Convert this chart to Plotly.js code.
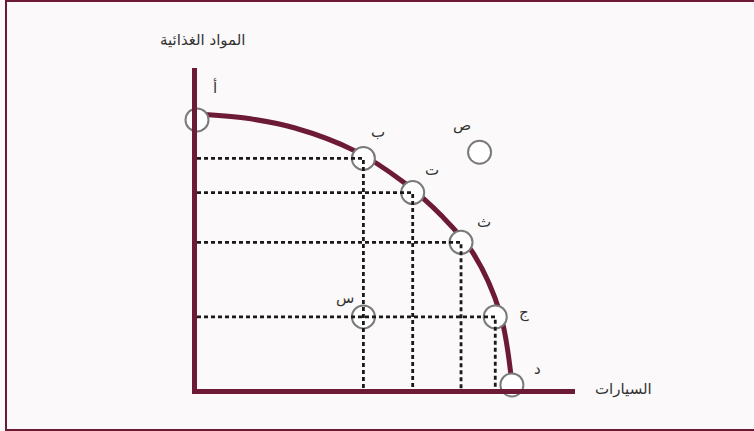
<!DOCTYPE html>
<html>
<head>
<meta charset="utf-8">
<script src="https://cdn.plot.ly/plotly-3.0.1.min.js"></script>
<style>
html,body{margin:0;padding:0;background:#ffffff;}
#wrap{position:relative;width:754px;height:431px;overflow:hidden;}
#chart{position:absolute;left:0;top:0;width:754px;height:431px;}
#frame{position:absolute;left:5px;top:0;width:760px;height:427px;border:2px solid #6d1a36;pointer-events:none;}
</style>
</head>
<body>
<div id="wrap"><div id="chart"></div><div id="frame"></div></div>
<script>
// Frontier curve (cars vs food)
const curveCars = [0, 1.53, 3.12, 5.03, 6.56, 7.83, 8.79, 9.65, 10.03];
const curveFood = [10.22, 10.07, 9.70, 8.85, 7.70, 6.39, 5.06, 2.83, 0.19];
// Labelled frontier points
const frontierLabels = ['أ', 'ب', 'ت', 'ث', 'ج', 'د'];
const frontierCars = [0, 5.3, 6.87, 8.41, 9.5, 10.03];
const frontierFood = [10.0, 8.57, 7.3, 5.45, 2.68, 0.15];
// Inside and outside points
const insideLabel = 'س';
const insideCars = 5.3;
const insideFood = 2.68;
const outsideLabel = 'ص';
const outsideCars = 9.0;
const outsideFood = 8.8;
// Axis titles
const xTitle = 'السيارات';
const yTitle = 'المواد الغذائية';

const maroon = '#6d1a36';
const traces = [];

traces.push({
  x: curveCars, y: curveFood, mode: 'lines', type: 'scatter',
  line: {color: maroon, width: 5, shape: 'spline', smoothing: 1},
  hoverinfo: 'skip', showlegend: false, cliponaxis: false
});

traces.push({
  x: frontierCars.concat([insideCars, outsideCars]),
  y: frontierFood.concat([insideFood, outsideFood]),
  mode: 'markers', type: 'scatter', cliponaxis: false,
  marker: {size: 23, color: '#ffffff', opacity: 1, line: {color: '#7a7a7a', width: 2}},
  hoverinfo: 'skip', showlegend: false
});

// dashed guides for interior frontier points (ب ت ث ج)
for (let i = 1; i < frontierCars.length - 1; i++) {
  traces.push({
    x: [0, frontierCars[i], frontierCars[i]],
    y: [frontierFood[i], frontierFood[i], 0],
    mode: 'lines', type: 'scatter',
    line: {color: '#1a1a1a', width: 2.8, dash: '4px,3px'},
    hoverinfo: 'skip', showlegend: false
  });
}

const lblFont = {family: 'DejaVu Sans', size: 15, color: '#333333'};
const shifts = [[18, 32], [15, 26], [19, 23], [23, 20], [29, 4], [26, 16]];
const annotations = frontierLabels.map((t, i) => ({
  x: frontierCars[i], y: frontierFood[i], xref: 'x', yref: 'y',
  text: t, showarrow: false, xshift: shifts[i][0], yshift: shifts[i][1], font: lblFont
}));
annotations.push({x: insideCars, y: insideFood, xref: 'x', yref: 'y', text: insideLabel,
  showarrow: false, xshift: -18, yshift: 19, font: lblFont});
annotations.push({x: outsideCars, y: outsideFood, xref: 'x', yref: 'y', text: outsideLabel,
  showarrow: false, xshift: -18, yshift: 27, font: lblFont});
annotations.push({x: 0, y: 1, xref: 'x', yref: 'paper', text: yTitle, showarrow: false,
  xanchor: 'center', yanchor: 'middle',
  xshift: 6, yshift: 28, font: {family: 'DejaVu Sans', size: 15, color: '#333333'}});
annotations.push({x: 1, y: 0, xref: 'paper', yref: 'y', text: xTitle, showarrow: false,
  xanchor: 'center', yanchor: 'middle',
  xshift: 48, yshift: 0, font: {family: 'DejaVu Sans', size: 15, color: '#333333'}});

const layout = {
  width: 754, height: 431,
  margin: {l: 197, r: 179, t: 68, b: 42},
  paper_bgcolor: '#fbf9f9', plot_bgcolor: '#fbf9f9',
  xaxis: {range: [0, 12.04], showline: true, linecolor: maroon, linewidth: 5,
    showgrid: false, zeroline: false, showticklabels: false, ticks: ''},
  yaxis: {range: [0, 11.93], showline: true, linecolor: maroon, linewidth: 5,
    showgrid: false, zeroline: false, showticklabels: false, ticks: ''},
  annotations: annotations,
  showlegend: false
};

Plotly.newPlot('chart', traces, layout, {displayModeBar: false, staticPlot: true});
</script>
</body>
</html>
